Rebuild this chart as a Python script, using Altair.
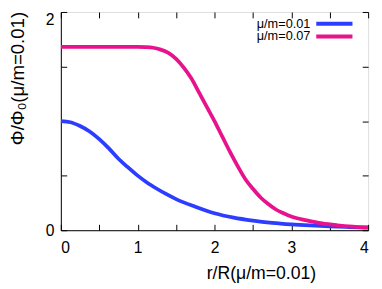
import altair as alt
import pandas as pd

# ---- data ----
series_names = ["μ/m=0.01", "μ/m=0.07"]
series_colors = ["#2d3dff", "#e8128c"]

r_blue = [0.0, 0.125, 0.25, 0.375, 0.5, 0.625, 0.75, 0.875, 1.0, 1.125, 1.25, 1.375, 1.5,
          1.75, 2.0, 2.25, 2.5, 2.75, 3.0, 3.25, 3.5, 3.75, 4.0]
phi_blue = [1.0, 0.99, 0.955, 0.905, 0.835, 0.75, 0.655, 0.575, 0.50, 0.435, 0.38, 0.33, 0.285,
            0.215, 0.155, 0.115, 0.088, 0.068, 0.054, 0.044, 0.036, 0.029, 0.023]

r_pink = [0.0, 0.5, 1.0, 1.1, 1.2, 1.3, 1.4, 1.5, 1.6, 1.7, 1.8, 1.9, 2.0, 2.1, 2.2, 2.3, 2.4,
          2.5, 2.6, 2.7, 2.8, 2.9, 3.0, 3.2, 3.4, 3.6, 3.8, 4.0]
phi_pink = [1.68, 1.68, 1.68, 1.678, 1.672, 1.655, 1.625, 1.57, 1.49, 1.39, 1.26, 1.13, 1.0,
            0.86, 0.72, 0.59, 0.47, 0.38, 0.30, 0.24, 0.19, 0.155, 0.125, 0.09, 0.062, 0.045,
            0.033, 0.025]

x_labels = [0, 1, 2, 3, 4]
y_labels = [0, 1, 2]
x_ticks = [0, 0.5, 1, 1.5, 2, 2.5, 3, 3.5, 4]
y_ticks = [0, 0.5, 1, 1.5, 2]

df = pd.DataFrame(
    {
        "r": r_blue + r_pink,
        "phi": phi_blue + phi_pink,
        "series": [series_names[0]] * len(r_blue) + [series_names[1]] * len(r_pink),
    }
)
legend_df = pd.DataFrame({"series": series_names})

W, H = 314, 223
FONT = "Liberation Sans"
xs = alt.Scale(domain=[0, 4], nice=False, zero=False)
ys = alt.Scale(domain=[0, 2], nice=False, zero=False)
cs = alt.Scale(domain=series_names, range=series_colors)

lines = alt.Chart(df).mark_line(strokeWidth=3.8, interpolate="monotone", clip=True).encode(
    x=alt.X(
        "r:Q", scale=xs,
        axis=alt.Axis(
            orient="bottom", values=x_labels, tickSize=0, labelPadding=10, format="d",
            labelFontSize=16, labelColor="black", labelFont=FONT,
            domain=True, domainColor="black", grid=False,
            title="r/R(μ/m=0.01)", titleFont=FONT, titleFontSize=18, titleFontWeight="normal",
            titleColor="black", titleX=204.5, titleY=44.5, titleAlign="center", titleBaseline="middle",
        ),
    ),
    y=alt.Y(
        "phi:Q", scale=ys,
        axis=alt.Axis(
            orient="left", values=y_labels, tickSize=0, labelPadding=7, format="d",
            labelFontSize=16, labelColor="black", labelFont=FONT,
            labelBaseline={"condition": {"test": "datum.value == 2", "value": "top"}, "value": "middle"},
            domain=True, domainColor="black", grid=False,
            title="Φ/Φ₀(μ/m=0.01)", titleFont=FONT, titleFontSize=19, titleFontWeight="normal",
            titleColor="black", titleX=-44, titleY=67.5, titleAngle=270,
            titleAlign="center", titleBaseline="middle",
        ),
    ),
    color=alt.Color("series:N", scale=cs, legend=None),
)

# key (legend) drawn inside the plot, top right
key_y = alt.Y("series:N", scale=alt.Scale(type="point", domain=series_names, range=[12, 25], padding=0), axis=None)
key_lines = alt.Chart(legend_df).mark_rule(strokeWidth=4).encode(
    x=alt.value(261), x2=alt.value(298), y=key_y,
    color=alt.Color("series:N", scale=cs, legend=None),
)
key_text = alt.Chart(legend_df).mark_text(align="right", baseline="middle", fontSize=13, font=FONT, color="black").encode(
    x=alt.value(255), y=key_y, text="series:N",
)

# inward ticks: axes pulled across the plot with negative offsets
ticks_a = alt.Chart(df).mark_point(opacity=0).encode(
    x=alt.X("r:Q", scale=xs, axis=alt.Axis(orient="top", offset=-H, values=x_ticks, tickSize=6,
                                           tickColor="black", labels=False, domain=False, grid=False, title=None)),
    y=alt.Y("phi:Q", scale=ys, axis=alt.Axis(orient="right", offset=-W, values=y_ticks, tickSize=6,
                                             tickColor="black", labels=False, domain=False, grid=False, title=None)),
)
ticks_b = alt.Chart(df).mark_point(opacity=0).encode(
    x=alt.X("r:Q", scale=xs, axis=alt.Axis(orient="bottom", offset=-H, values=x_ticks, tickSize=6,
                                           tickColor="black", labels=False, domain=False, grid=False, title=None)),
    y=alt.Y("phi:Q", scale=ys, axis=alt.Axis(orient="left", offset=-W, values=y_ticks, tickSize=6,
                                             tickColor="black", labels=False, domain=False, grid=False, title=None)),
)

chart = (
    alt.layer(ticks_a, ticks_b, lines, key_lines, key_text)
    .resolve_axis(x="independent", y="independent")
    .resolve_scale(y="independent")
    .properties(
        width=W, height=H,
        autosize=alt.AutoSizeParams(type="none"),
        padding={"left": 54, "top": 1, "right": 6, "bottom": 57},
    )
    .configure_view(stroke="black", strokeWidth=1)
    .configure(background="white")
)

chart.save("out.html", embed_options={"renderer": "svg", "actions": False})
